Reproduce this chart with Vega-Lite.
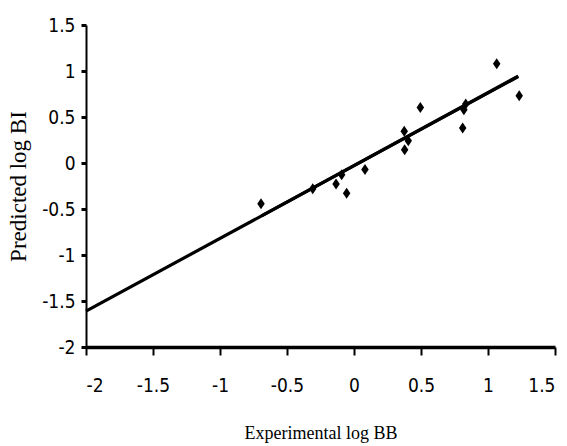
{
  "$schema": "https://vega.github.io/schema/vega-lite/v6.json",
  "autosize": {"type": "none"},
  "padding": {"left": 86, "top": 25, "right": 12, "bottom": 99},
  "width": 469,
  "height": 322,
  "background": "white",
  "config": {
    "view": {"stroke": null},
    "axis": {
      "grid": false,
      "domainColor": "black",
      "tickColor": "black",
      "labelColor": "black",
      "titleColor": "black",
      "labelFont": "DejaVu Sans Condensed, Liberation Sans Narrow, Arial Narrow",
      "labelFontSize": 19,
      "titleFont": "Liberation Serif",
      "titleFontWeight": "normal"
    }
  },
  "datasets": {
    "points": [
      {"x": -0.694, "y": -0.443},
      {"x": -0.308, "y": -0.28},
      {"x": -0.134, "y": -0.227},
      {"x": -0.092, "y": -0.129},
      {"x": -0.055, "y": -0.33},
      {"x": 0.082, "y": -0.072},
      {"x": 0.375, "y": 0.345},
      {"x": 0.405, "y": 0.243},
      {"x": 0.378, "y": 0.145},
      {"x": 0.495, "y": 0.603},
      {"x": 0.811, "y": 0.38},
      {"x": 0.82, "y": 0.58},
      {"x": 0.834, "y": 0.64},
      {"x": 1.065, "y": 1.08},
      {"x": 1.233, "y": 0.73}
    ],
    "lines": [
      {"series": "a", "x": -2, "y": -1.61},
      {"series": "a", "x": 1.226, "y": 0.94},
      {"series": "b", "x": -0.69, "y": -0.575},
      {"series": "b", "x": 1.226, "y": 0.945}
    ]
  },
  "layer": [
    {
      "data": {"name": "lines"},
      "mark": {"type": "line", "color": "black", "strokeWidth": 3.2},
      "encoding": {
        "x": {
          "field": "x", "type": "quantitative",
          "scale": {"domain": [-2, 1.5], "nice": false, "zero": false},
          "axis": {
            "values": [-2, -1.5, -1, -0.5, 0, 0.5, 1, 1.5],
            "labelExpr": "'' + datum.value",
            "domainWidth": 3.5,
            "tickSize": 8,
            "tickWidth": 2,
            "labelPadding": 21,
            "title": "Experimental log BB",
            "titleFontSize": 18,
            "titlePadding": 29
          }
        },
        "y": {
          "field": "y", "type": "quantitative",
          "scale": {"domain": [-2, 1.5], "nice": false, "zero": false},
          "axis": {
            "values": [-2, -1.5, -1, -0.5, 0, 0.5, 1, 1.5],
            "labelExpr": "'' + datum.value",
            "domainWidth": 2,
            "tickSize": 5,
            "tickWidth": 3,
            "labelPadding": 6,
            "title": "Predicted log BI",
            "titleFontSize": 23,
            "titlePadding": 11
          }
        },
        "detail": {"field": "series"}
      }
    },
    {
      "data": {"name": "points"},
      "mark": {"type": "point", "shape": "M0,-1L0.68,0L0,1L-0.68,0Z", "filled": true, "color": "black", "opacity": 1, "size": 121},
      "encoding": {
        "x": {"field": "x", "type": "quantitative"},
        "y": {"field": "y", "type": "quantitative"}
      }
    }
  ]
}
